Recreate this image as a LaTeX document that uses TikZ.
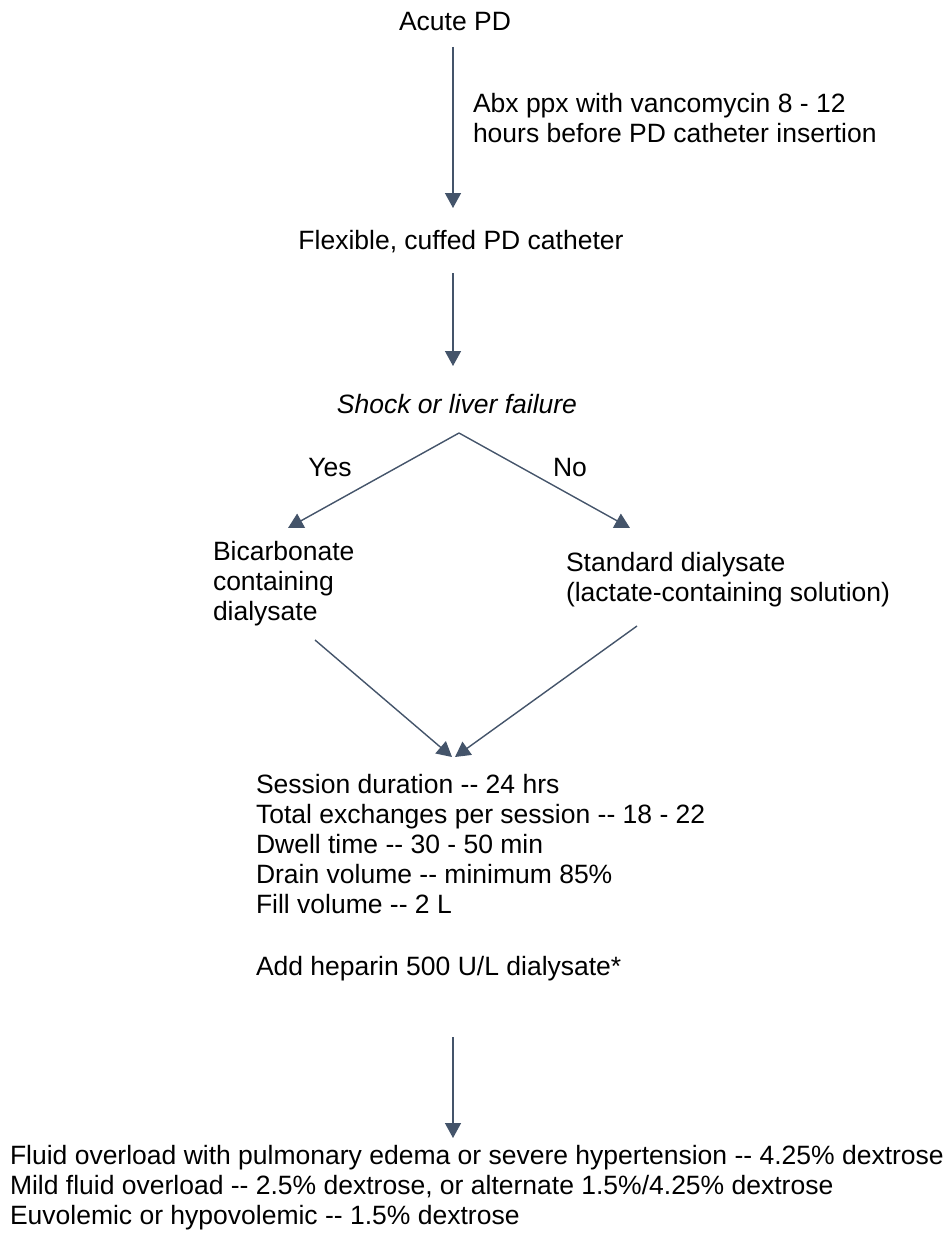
\documentclass[tikz,border=0pt]{standalone}
\usepackage{fontspec}
\setmainfont{Liberation Sans}
\usetikzlibrary{arrows.meta}
\definecolor{arr}{HTML}{44546A}
\newcommand\dd{-\kern0pt-}
\tikzset{
  txt/.style={inner sep=0pt, outer sep=0pt, font=\fontsize{26.5}{30}\selectfont, text=black},
  ltxt/.style={txt, anchor=west, align=left},
  conn/.style={draw=arr, line width=1.4pt, -{Triangle[width=16pt,length=15pt]}},
  plain/.style={draw=arr, line width=1.4pt}
}
\begin{document}
\begin{tikzpicture}[x=1pt,y=-1pt]
\useasboundingbox (0,0) rectangle (950,1239);
\fill[white] (0,0) rectangle (950,1239);
% nodes
\node[txt] (acute) at (455,22) {Acute PD};
\node[ltxt] (abx) at (473,118) {Abx ppx with vancomycin 8 - 12\\hours before PD catheter insertion};
\node[txt] (flex) at (461,242) {Flexible, cuffed PD catheter};
\node[txt, font=\fontsize{26.5}{30}\selectfont\itshape] (shock) at (457,404) {Shock or liver failure};
\node[txt] (yes) at (330,468) {Yes};
\node[txt] (no) at (570,468) {No};
\node[ltxt] (bicarb) at (213,584) {Bicarbonate\\containing\\dialysate};
\node[ltxt] (std) at (566,580) {Standard dialysate\\(lactate-containing solution)};
\node[ltxt] (sess) at (256,844) {Session duration \dd{} 24 hrs\\Total exchanges per session \dd{} 18 - 22\\Dwell time \dd{} 30 - 50 min\\Drain volume \dd{} minimum 85\%\\Fill volume \dd{} 2 L};
\node[ltxt] (hep) at (256,969) {Add heparin 500 U/L dialysate*};
\node[ltxt] (fluid) at (10,1188) {Fluid overload with pulmonary edema or severe hypertension \dd{} 4.25\% dextrose\\Mild fluid overload \dd{} 2.5\% dextrose, or alternate 1.5\%/4.25\% dextrose\\Euvolemic or hypovolemic \dd{} 1.5\% dextrose};
% connector endpoints
\coordinate (a1s) at (453,47);
\coordinate (a1e) at (453,208);
\coordinate (a2s) at (453,273);
\coordinate (a2e) at (453,366);
\coordinate (apex) at (459,433);
\coordinate (yesE) at (288,528);
\coordinate (noE) at (630,528);
\coordinate (bS) at (315,640);
\coordinate (sS) at (637,626);
\coordinate (bE) at (452,757);
\coordinate (sE) at (455,757);
\coordinate (a5s) at (453,1037);
\coordinate (a5e) at (453,1138);
% connectors
\draw[conn] (a1s) -- (a1e);
\draw[conn] (a2s) -- (a2e);
\draw[conn] (apex) -- (yesE);
\draw[conn] (apex) -- (noE);
\draw[conn] (bS) -- (bE);
\draw[conn] (sS) -- (sE);
\draw[conn] (a5s) -- (a5e);
\end{tikzpicture}
\end{document}
